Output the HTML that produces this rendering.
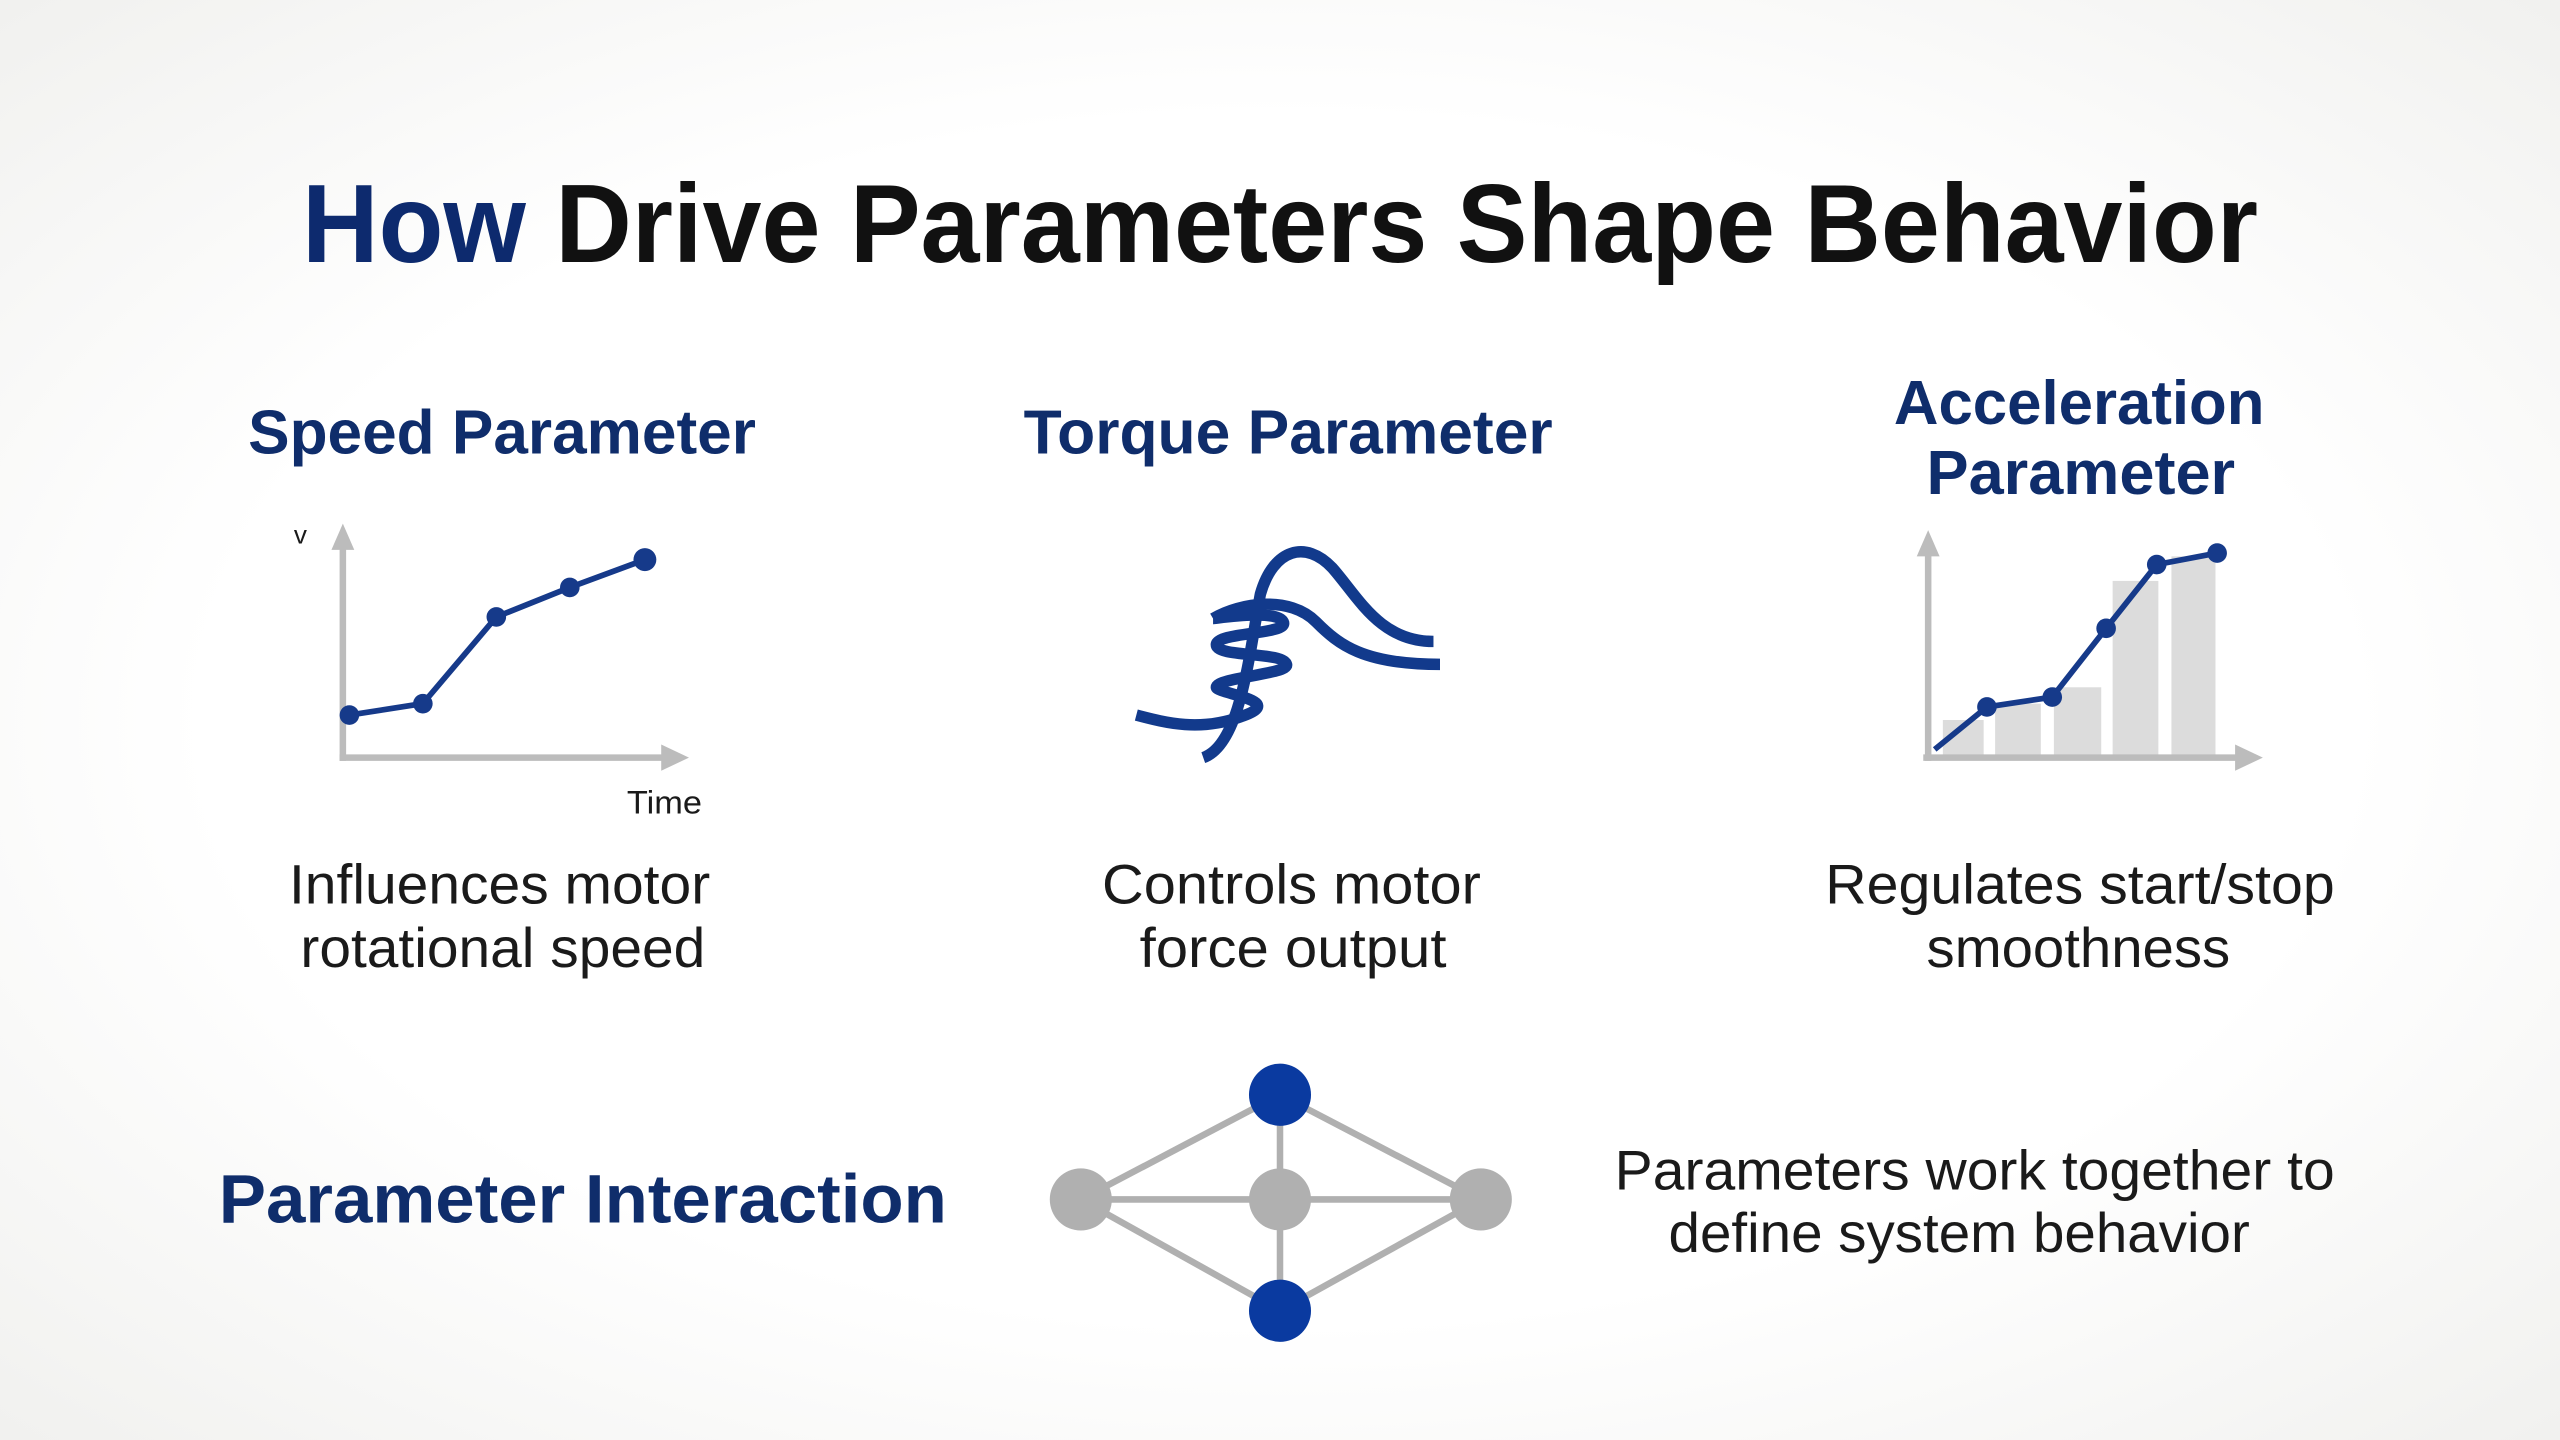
<!DOCTYPE html>
<html><head><meta charset="utf-8"><style>
html,body{margin:0;padding:0;width:2560px;height:1440px;overflow:hidden;background:#fbfbfa}
svg{display:block}
</style></head><body>
<svg width="2560" height="1440" viewBox="0 0 1568 880" preserveAspectRatio="none" xmlns="http://www.w3.org/2000/svg">
<defs>
<radialGradient id="bg" cx="50%" cy="50%" r="70%">
<stop offset="0.6" stop-color="#ffffff"/><stop offset="1" stop-color="#f1f1ef"/>
</radialGradient>
</defs>
<rect width="1568" height="880" fill="url(#bg)"/>
<g font-family="Liberation Sans, sans-serif">
<text x="185" y="160" font-size="68" font-weight="bold" textLength="1198" lengthAdjust="spacingAndGlyphs" fill="#111"><tspan fill="#0d2a6e">How</tspan> Drive Parameters Shape Behavior</text>

<g font-weight="bold" fill="#0f2d6b" font-size="38">
<text x="152" y="277" textLength="311" lengthAdjust="spacingAndGlyphs">Speed Parameter</text>
<text x="627" y="277" textLength="324" lengthAdjust="spacingAndGlyphs">Torque Parameter</text>
<text x="1160" y="259" textLength="227" lengthAdjust="spacingAndGlyphs">Acceleration</text>
<text x="1180" y="302" textLength="189" lengthAdjust="spacingAndGlyphs">Parameter</text>
<text x="134" y="747" font-size="42" textLength="446" lengthAdjust="spacingAndGlyphs">Parameter Interaction</text>
</g>

<g fill="#1a1a1a" font-size="34">
<text x="177" y="552" textLength="258" lengthAdjust="spacingAndGlyphs">Influences motor</text>
<text x="184" y="591" textLength="248" lengthAdjust="spacingAndGlyphs">rotational speed</text>
<text x="675" y="552" textLength="232" lengthAdjust="spacingAndGlyphs">Controls motor</text>
<text x="698" y="591" textLength="188" lengthAdjust="spacingAndGlyphs">force output</text>
<text x="1118" y="552" textLength="312" lengthAdjust="spacingAndGlyphs">Regulates start/stop</text>
<text x="1180" y="591" textLength="186" lengthAdjust="spacingAndGlyphs">smoothness</text>
<text x="989" y="727" textLength="441" lengthAdjust="spacingAndGlyphs">Parameters work together to</text>
<text x="1022" y="765" textLength="356" lengthAdjust="spacingAndGlyphs">define system behavior</text>
<text x="180" y="332" font-size="16">v</text>
<text x="384" y="497" font-size="20" textLength="46" lengthAdjust="spacingAndGlyphs">Time</text>
</g>
</g>

<!-- speed chart -->
<g stroke="#bcbcbc" stroke-width="4" fill="none">
<line x1="210" y1="465" x2="210" y2="334"/>
<line x1="208" y1="463" x2="408" y2="463"/>
</g>
<polygon points="210,320 203,336 217,336" fill="#bcbcbc"/>
<polygon points="422,463 405,455 405,471" fill="#bcbcbc"/>
<polyline points="214,437 259,430 304,377 349,359 395,342" fill="none" stroke="#163a8a" stroke-width="3.5"/>
<g fill="#163a8a"><circle cx="214" cy="437" r="6"/><circle cx="259" cy="430" r="6"/><circle cx="304" cy="377" r="6"/><circle cx="349" cy="359" r="6"/><circle cx="395" cy="342" r="7"/></g>

<!-- torque icon -->
<g fill="none" stroke="#123a8c" stroke-width="7" stroke-linecap="butt">
<path d="M737,463 C760,455 765,400 772,363 C780,335 800,330 816,347 C832,365 845,392 878,392"/>
<path d="M743,378 C760,368 790,364 806,380 C820,394 835,406 882,406"/>
<path d="M696,437 C715,442 735,447 760,438 C790,428 745,424 745,420 C745,414 790,412 788,406 C786,398 745,402 745,394 C745,386 790,388 786,380 C782,372 745,378 743,378"/>
</g>

<!-- accel chart -->
<g fill="#dcdcdc">
<rect x="1190" y="440" width="25" height="22"/>
<rect x="1222" y="430" width="28" height="32"/>
<rect x="1258" y="420" width="29" height="42"/>
<rect x="1294" y="355" width="28" height="107"/>
<rect x="1330" y="340" width="27" height="122"/>
</g>
<g stroke="#bcbcbc" stroke-width="4" fill="none">
<line x1="1181" y1="465" x2="1181" y2="338"/>
<line x1="1178" y1="463" x2="1372" y2="463"/>
</g>
<polygon points="1181,324 1174,340 1188,340" fill="#bcbcbc"/>
<polygon points="1386,463 1369,455 1369,471" fill="#bcbcbc"/>
<polyline points="1185,458 1217,432 1257,426 1290,384 1321,345 1358,338" fill="none" stroke="#163a8a" stroke-width="3.5"/>
<g fill="#163a8a"><circle cx="1217" cy="432" r="6"/><circle cx="1257" cy="426" r="6"/><circle cx="1290" cy="384" r="6"/><circle cx="1321" cy="345" r="6"/><circle cx="1358" cy="338" r="6"/></g>

<!-- network -->
<g stroke="#b0b0b0" stroke-width="4">
<line x1="662" y1="733" x2="784" y2="669"/>
<line x1="784" y1="669" x2="907" y2="733"/>
<line x1="662" y1="733" x2="784" y2="801"/>
<line x1="784" y1="801" x2="907" y2="733"/>
<line x1="662" y1="733" x2="907" y2="733"/>
<line x1="784" y1="669" x2="784" y2="801"/>
</g>
<g fill="#b0b0b0"><circle cx="662" cy="733" r="19"/><circle cx="784" cy="733" r="19"/><circle cx="907" cy="733" r="19"/></g>
<g fill="#0a3aa0"><circle cx="784" cy="669" r="19"/><circle cx="784" cy="801" r="19"/></g>
</svg>
</body></html>
